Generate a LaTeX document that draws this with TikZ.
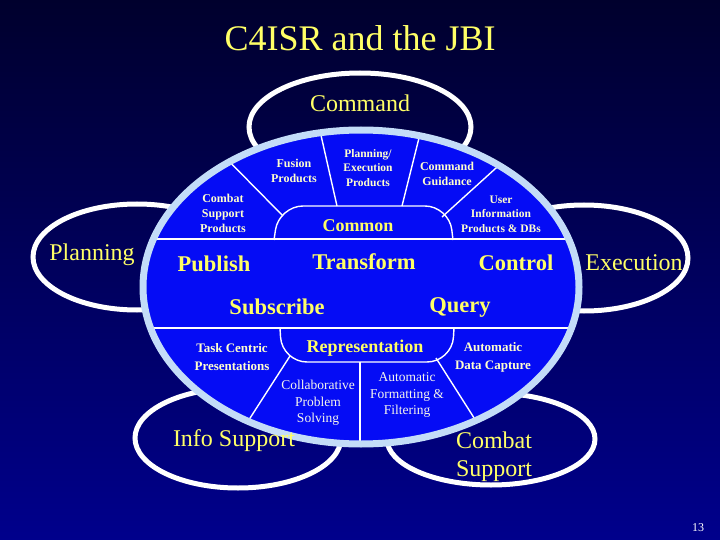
\documentclass[tikz,border=0pt]{standalone}
\usepackage{fontspec}
\setmainfont{Liberation Serif}
\usetikzlibrary{shapes.geometric}
\definecolor{bgtop}{RGB}{0,0,45}
\definecolor{bgbot}{RGB}{0,0,140}
\definecolor{hubfill}{RGB}{5,12,245}
\definecolor{hubrim}{RGB}{195,220,248}
\definecolor{ylw}{RGB}{255,255,102}
\definecolor{cream}{RGB}{255,255,205}
\definecolor{pale}{RGB}{245,245,235}
\tikzset{
  satell/.style={ellipse, draw=white, line width=5pt, inner sep=0pt},
  biglabel/.style={text=ylw, font=\fontsize{24}{28}\selectfont, align=center, inner sep=0pt},
  midlabel/.style={text=ylw, font=\bfseries\fontsize{22.5}{26}\selectfont, inner sep=0pt},
  medlabel/.style={text=ylw, font=\bfseries\fontsize{18}{22}\selectfont, inner sep=0pt},
  smalllabel/.style={text=cream, font=\bfseries\fontsize{12}{15}\selectfont, align=center, inner sep=0pt},
  plainlabel/.style={text=pale, font=\fontsize{13.5}{16.5}\selectfont, align=center, inner sep=0pt},
  divider/.style={draw=white, line width=1.4pt},
}
\begin{document}
\begin{tikzpicture}[x=1pt,y=-1pt]
\useasboundingbox (0,0) rectangle (720,540);
\shade[top color=bgtop, bottom color=bgbot] (0,0) rectangle (720,540);

% title
\node[text=ylw, font=\fontsize{36}{40}\selectfont, inner sep=0pt] (title) at (360,38) {C4ISR and the JBI};

% satellite ellipses
\node[satell, minimum width=222pt, minimum height=108pt] (cmdE) at (360,127) {};
\node[satell, minimum width=208pt, minimum height=106pt] (planE) at (137,257) {};
\node[satell, minimum width=208pt, minimum height=106pt] (execE) at (584,258) {};
\node[satell, minimum width=206pt, minimum height=100pt] (infoE) at (238,438) {};
\node[satell, minimum width=208pt, minimum height=92pt] (combE) at (491,439) {};

% central hub
\fill[hubfill] (361,287) ellipse [x radius=218pt, y radius=157pt];
\begin{scope}
\clip (361,287) ellipse [x radius=215pt, y radius=154pt];
\coordinate (hL1) at (130,239); \coordinate (hR1) at (600,239);
\coordinate (hL2) at (130,328); \coordinate (hR2) at (600,328);
\draw[divider] (hL1) -- (hR1);
\draw[divider] (hL2) -- (hR2);
% Common cap
\draw[divider, rounded corners=24pt] (274,240) -- (279,206) -- (449,206) -- (453,240);
% Representation cup
\draw[divider, rounded corners=25pt] (280,328) -- (282,362) -- (452,362) -- (454,328);
% radial dividers, top
\coordinate (t1a) at (283,216); \coordinate (t1b) at (213,145);
\coordinate (t2a) at (337,206); \coordinate (t2b) at (318,122);
\coordinate (t3a) at (402,206); \coordinate (t3b) at (423,122);
\coordinate (t4a) at (442,217); \coordinate (t4b) at (517,149);
\draw[divider] (t1a) -- (t1b);
\draw[divider] (t2a) -- (t2b);
\draw[divider] (t3a) -- (t3b);
\draw[divider] (t4a) -- (t4b);
% radial dividers, bottom
\coordinate (b1a) at (290,356); \coordinate (b1b) at (234,443);
\coordinate (b2a) at (360,362); \coordinate (b2b) at (360,450);
\coordinate (b3a) at (436,358); \coordinate (b3b) at (490,443);
\draw[divider] (b1a) -- (b1b);
\draw[divider] (b2a) -- (b2b);
\draw[divider] (b3a) -- (b3b);
\end{scope}
\draw[hubrim, line width=7pt] (361,287) ellipse [x radius=218pt, y radius=157pt];

% satellite labels
\node[biglabel] (cmdT) at (360,103) {Command};
\node[biglabel] (planT) at (92,255) {Planning};
\node[biglabel] (execT) at (634,263) {Execution};
\node[biglabel] (infoT) at (234,441) {Info Support};
\node[biglabel, align=left] (combT) at (494,457) {Combat\\[0pt]Support};

% hub labels
\node[medlabel] (common) at (358,226) {Common};
\node[midlabel] (publish) at (214,264) {Publish};
\node[midlabel] (transform) at (364,262) {Transform};
\node[midlabel] (control) at (516,263) {Control};
\node[midlabel] (subscribe) at (277,307) {Subscribe};
\node[midlabel] (query) at (460,307) {Query};
\node[medlabel] (repr) at (365,348) {Representation};

\node[smalllabel] (fusion) at (294,171) {Fusion\\Products};
\node[smalllabel, font=\bfseries\fontsize{11.5}{14.5}\selectfont] (planexec) at (368,168) {Planning/\\Execution\\Products};
\node[smalllabel] (guidance) at (447,174) {Command\\Guidance};
\node[smalllabel] (csp) at (223,213) {Combat\\Support\\Products};
\node[smalllabel, font=\bfseries\fontsize{11.5}{14.5}\selectfont] (user) at (501,214) {User\\Information\\Products \& DBs};
\node[smalllabel, font=\bfseries\fontsize{13}{18}\selectfont] (task) at (232,357) {Task Centric\\Presentations};
\node[smalllabel, font=\bfseries\fontsize{13}{18}\selectfont] (adc) at (493,357) {Automatic\\Data Capture};
\node[plainlabel] (collab) at (318,403) {Collaborative\\Problem\\Solving};
\node[plainlabel] (aff) at (407,395) {Automatic\\Formatting \&\\Filtering};

\node[text=white, font=\fontsize{12}{14}\selectfont, inner sep=0pt] (pg) at (698,528) {13};
\end{tikzpicture}
\end{document}
